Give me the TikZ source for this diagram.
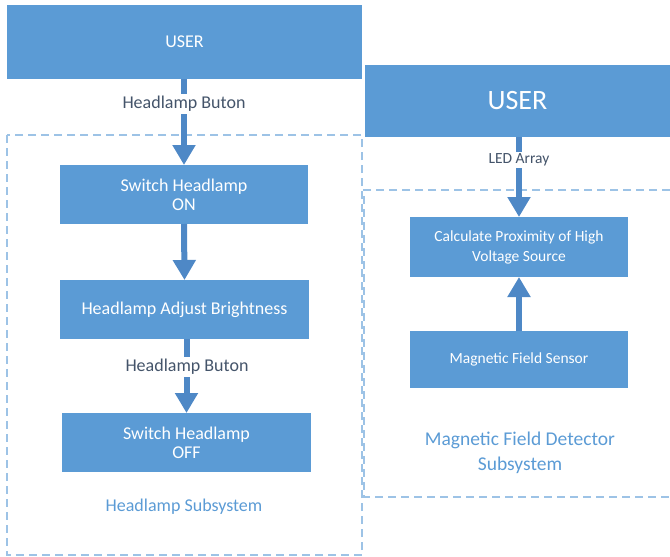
\documentclass[tikz,border=0pt]{standalone}
\usepackage{fontspec}
\setmainfont{Carlito}
\usetikzlibrary{arrows.meta}
\definecolor{boxblue}{HTML}{5B9BD5}
\definecolor{arrowblue}{HTML}{4E88C6}
\definecolor{dashblue}{HTML}{9DC3E6}
\definecolor{lbltext}{HTML}{44546A}
\begin{document}
\begin{tikzpicture}[x=1pt,y=-1pt,
  box/.style={draw=none, fill=boxblue, text=white, align=center, inner sep=0pt, outer sep=0pt},
  flow/.style={draw=arrowblue, line width=6pt, -{Triangle[width=22pt,length=20pt]}},
  lbl/.style={fill=white, text=lbltext, inner sep=2pt, font=\fontsize{18}{20}\selectfont},
  sublbl/.style={text=boxblue, align=center},
  frame/.style={draw=dashblue, line width=2pt, dash pattern=on 8pt off 5pt}
]
\useasboundingbox (0,0) rectangle (670,557);
% dashed frames
\draw[frame] (7,135) rectangle (362,555);
\draw[frame] (670,190) -- (364,190) -- (364,497) -- (670,497);
% left column
\node[box, minimum width=355pt, minimum height=74pt, font=\fontsize{18}{20}\selectfont] (userL) at (184.5,42) {USER};
\node[box, minimum width=248pt, minimum height=59pt, font=\fontsize{18}{19}\selectfont] (on) at (184,194.5) {Switch Headlamp\\ON};
\node[box, minimum width=249pt, minimum height=59pt, font=\fontsize{18}{19}\selectfont] (adj) at (184.5,309.5) {Headlamp Adjust Brightness};
\node[box, minimum width=249pt, minimum height=59pt, font=\fontsize{18}{19}\selectfont] (off) at (186.5,442.5) {Switch Headlamp\\OFF};
\draw[flow] (userL.south -| on) -- (on.north);
\draw[flow] (on.south) -- (adj.north);
\draw[flow] (adj.south -| off) -- (off.north);
\node[lbl] (b1) at (184,104) {Headlamp Buton};
\node[lbl] (b2) at (187,367) {Headlamp Buton};
\node[sublbl, font=\fontsize{18}{20}\selectfont] (hs) at (184,507) {Headlamp Subsystem};
% right column
\node[box, minimum width=305pt, minimum height=72pt, font=\fontsize{28}{30}\selectfont] (userR) at (517.5,101) {USER};
\node[box, minimum width=218pt, minimum height=60pt, font=\fontsize{15.5}{20}\selectfont] (calc) at (519,247) {Calculate Proximity of High\\Voltage Source};
\node[box, minimum width=218pt, minimum height=57pt, font=\fontsize{15.5}{18}\selectfont] (sens) at (519,359.5) {Magnetic Field Sensor};
\draw[flow] (userR.south -| calc) -- (calc.north);
\draw[flow] (sens.north) -- (calc.south);
\node[lbl, font=\fontsize{15.5}{18}\selectfont] (led) at (519,160) {LED Array};
\node[sublbl, font=\fontsize{19.5}{25}\selectfont] (mfd) at (520,453) {Magnetic Field Detector\\Subsystem};
\end{tikzpicture}
\end{document}
